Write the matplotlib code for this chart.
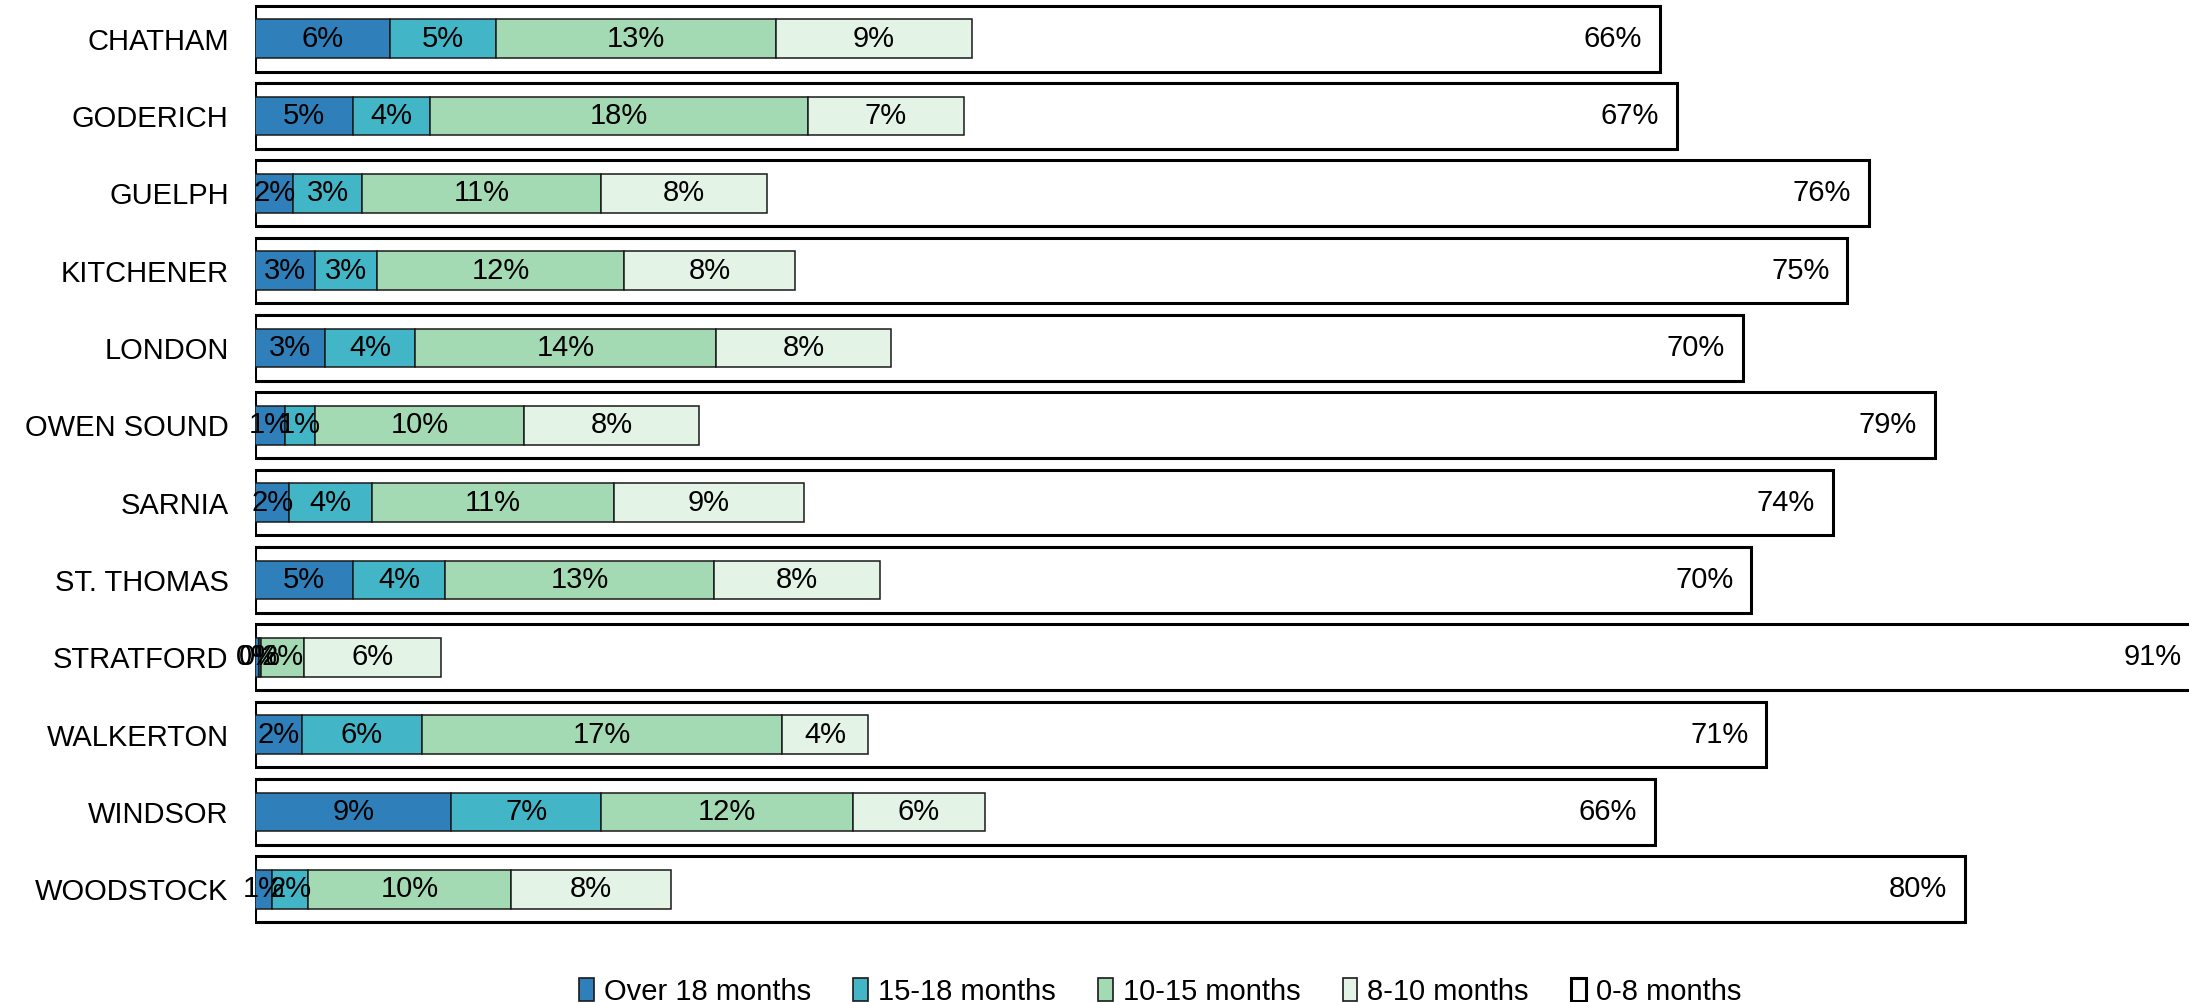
import numpy as np
import matplotlib
matplotlib.use('Agg')
import matplotlib.pyplot as plt
from matplotlib.patches import Patch

plt.rcParams['font.family'] = ['Liberation Sans', 'DejaVu Sans']

# share of cases by time to disposition, per court location (%)
locations = ['CHATHAM', 'GODERICH', 'GUELPH', 'KITCHENER', 'LONDON', 'OWEN SOUND',
             'SARNIA', 'ST. THOMAS', 'STRATFORD', 'WALKERTON', 'WINDSOR', 'WOODSTOCK']
over_18 = [6.3, 4.6, 1.8, 2.8, 3.3, 1.4, 1.6, 4.6, 0.2, 2.2, 9.2, 0.8]
m15_18 = [5.0, 3.6, 3.2, 2.9, 4.2, 1.4, 3.9, 4.3, 0.1, 5.6, 7.0, 1.7]
m10_15 = [13.1, 17.7, 11.2, 11.6, 14.1, 9.8, 11.3, 12.6, 2.0, 16.9, 11.8, 9.5]
m8_10 = [9.2, 7.3, 7.8, 8.0, 8.2, 8.2, 8.9, 7.8, 6.4, 4.0, 6.2, 7.5]
m0_8 = [65.8, 66.6, 75.6, 74.6, 69.7, 78.7, 73.9, 70.1, 91.1, 70.8, 65.6, 80.1]

series = [('Over 18 months', over_18, '#2E7FBA'),
          ('15-18 months', m15_18, '#42B6C6'),
          ('10-15 months', m10_15, '#A3DAB4'),
          ('8-10 months', m8_10, '#E3F3E6')]

fig = plt.figure(figsize=(21.89, 10.02), dpi=100)
ax = fig.add_axes([0.1165, 0.074, 0.8835, 0.926])

y = np.arange(len(locations))
fs = 21

# 0-8 months drawn as a wider outlined bar from zero, behind the stacked segments
ax.barh(y, m0_8, height=0.85, color='white', edgecolor='black', linewidth=2.2, zorder=1)
for yi, v in zip(y, m0_8):
    ax.annotate(f'{v:.0f}%', xy=(v, yi), xytext=(-13, 0), textcoords='offset points',
                ha='right', va='center', fontsize=fs, zorder=5, annotation_clip=False)

left = np.zeros(len(locations))
for name, vals, col in series:
    vals = np.array(vals)
    ax.barh(y, vals, left=left, height=0.5, color=col, edgecolor='#1a1a1a',
            linewidth=1.1, zorder=2)
    for yi, l, v in zip(y, left, vals):
        ax.text(l + v / 2, yi, f'{v:.0f}%', ha='center', va='center', fontsize=fs, zorder=4)
    left += vals

ax.set_xlim(0, 90.6)
ax.set_ylim(11.5, -0.5)
ax.set_yticks(y)
ax.set_yticklabels(locations, fontsize=fs)
ax.tick_params(axis='y', length=0, pad=19)
ax.set_xticks([])
for s in ax.spines.values():
    s.set_visible(False)

handles = [Patch(facecolor=c, edgecolor='#1a1a1a', linewidth=1.2, label=n) for n, _, c in series]
handles.append(Patch(facecolor='white', edgecolor='black', linewidth=2.2, label='0-8 months'))
fig.legend(handles=handles, loc='lower center', bbox_to_anchor=(0.53, -0.024), ncol=5,
           frameon=False, fontsize=fs, handlelength=0.5, handleheight=0.8,
           handletextpad=0.35, columnspacing=1.45, borderpad=0.2)

fig.savefig('out.png', dpi=100)
